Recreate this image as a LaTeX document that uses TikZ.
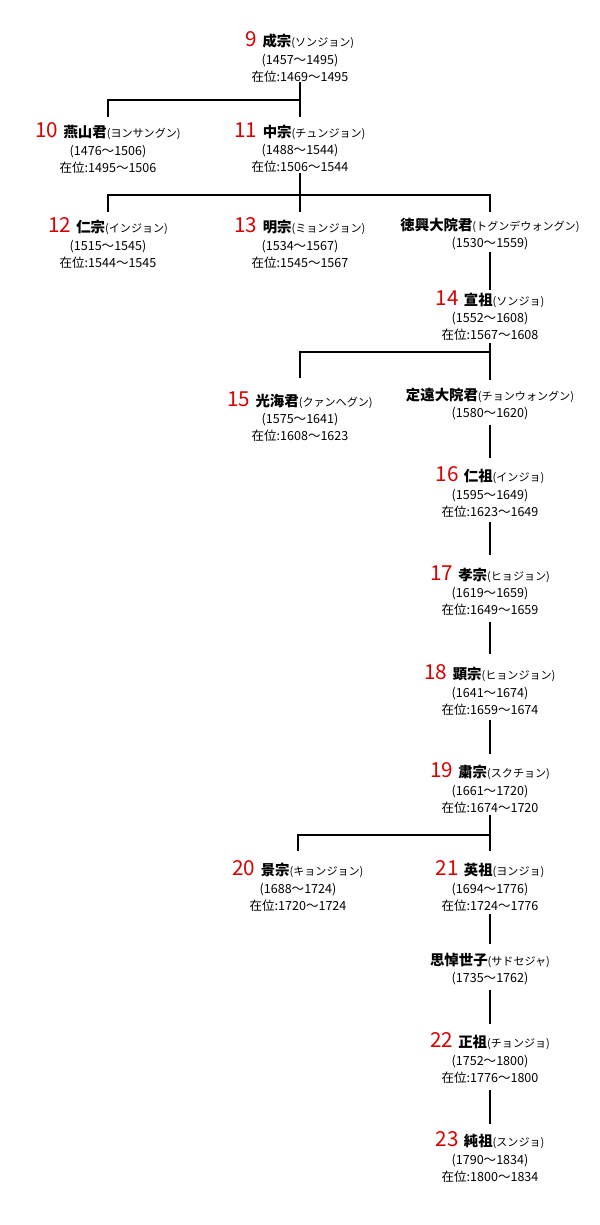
\documentclass[tikz,border=0pt]{standalone}
\usepackage{fontspec}
\setmainfont{Noto Sans CJK JP}
\newcommand{\knum}[1]{{\fontsize{15.5pt}{14pt}\selectfont\color{red!85!black}#1}\hspace{4pt}}
\newcommand{\ktit}[1]{{\fontsize{10.8pt}{12pt}\selectfont\bfseries #1}}
\newcommand{\kkana}[1]{{\fontsize{8.3pt}{10pt}\selectfont #1}}
\begin{document}
\begin{tikzpicture}[x=0.75pt,y=-0.75pt,
  person/.style={align=center,font=\fontsize{9.4pt}{12.8pt}\selectfont,inner sep=0pt},
  link/.style={line width=1.1pt}]
\useasboundingbox (0,0) rectangle (600,1225);
\node[person] (k9) at (300,57) {\knum{9}\ktit{成宗}\kkana{(ソンジョン)}\\(1457～1495)\\在位:1469～1495};
\node[person] (k10) at (108,148) {\knum{10}\ktit{燕山君}\kkana{(ヨンサングン)}\\(1476～1506)\\在位:1495～1506};
\node[person] (k11) at (300,148) {\knum{11}\ktit{中宗}\kkana{(チュンジョン)}\\(1488～1544)\\在位:1506～1544};
\node[person] (k12) at (108,243) {\knum{12}\ktit{仁宗}\kkana{(インジョン)}\\(1515～1545)\\在位:1544～1545};
\node[person] (k13) at (300,243) {\knum{13}\ktit{明宗}\kkana{(ミョンジョン)}\\(1534～1567)\\在位:1545～1567};
\node[person] (tok) at (490,234) {\ktit{徳興大院君}\kkana{(トグンデウォングン)}\\(1530～1559)};
\node[person] (k14) at (490,316) {\knum{14}\ktit{宣祖}\kkana{(ソンジョ)}\\(1552～1608)\\在位:1567～1608};
\node[person] (k15) at (300,417) {\knum{15}\ktit{光海君}\kkana{(クァンヘグン)}\\(1575～1641)\\在位:1608～1623};
\node[person] (tei) at (490,404) {\ktit{定遠大院君}\kkana{(チョンウォングン)}\\(1580～1620)};
\node[person] (k16) at (490,492) {\knum{16}\ktit{仁祖}\kkana{(インジョ)}\\(1595～1649)\\在位:1623～1649};
\node[person] (k17) at (490,591) {\knum{17}\ktit{孝宗}\kkana{(ヒョジョン)}\\(1619～1659)\\在位:1649～1659};
\node[person] (k18) at (490,690) {\knum{18}\ktit{顕宗}\kkana{(ヒョンジョン)}\\(1641～1674)\\在位:1659～1674};
\node[person] (k19) at (490,788) {\knum{19}\ktit{粛宗}\kkana{(スクチョン)}\\(1661～1720)\\在位:1674～1720};
\node[person] (k20) at (298,886) {\knum{20}\ktit{景宗}\kkana{(キョンジョン)}\\(1688～1724)\\在位:1720～1724};
\node[person] (k21) at (490,886) {\knum{21}\ktit{英祖}\kkana{(ヨンジョ)}\\(1694～1776)\\在位:1724～1776};
\node[person] (sado) at (490,969) {\ktit{思悼世子}\kkana{(サドセジャ)}\\(1735～1762)};
\node[person] (k22) at (490,1058) {\knum{22}\ktit{正祖}\kkana{(チョンジョ)}\\(1752～1800)\\在位:1776～1800};
\node[person] (k23) at (490,1157) {\knum{23}\ktit{純祖}\kkana{(スンジョ)}\\(1790～1834)\\在位:1800～1834};
% connectors
\draw[link] (k9.south |- 0,82) -- (k9.south |- 0,117);
\draw[link] (k10.north |- 0,117) -- (k10.north |- 0,100) -- (k9.south |- 0,100);
\draw[link] (k11.south |- 0,173) -- (k11.south |- 0,212);
\draw[link] (k12.north |- 0,212) -- (k12.north |- 0,195) -- (tok.north |- 0,195) -- (tok.north |- 0,212);
\draw[link] (tok.south |- 0,252) -- (k14.north |- 0,290);
\draw[link] (k14.south |- 0,343) -- (k14.south |- 0,380);
\draw[link] (k15.north |- 0,378) -- (k15.north |- 0,352) -- (k14.south |- 0,352);
\draw[link] (tei.south |- 0,425) -- (k16.north |- 0,458);
\draw[link] (k16.south |- 0,522) -- (k17.north |- 0,555);
\draw[link] (k17.south |- 0,622) -- (k18.north |- 0,654);
\draw[link] (k18.south |- 0,720) -- (k19.north |- 0,754);
\draw[link] (k19.south |- 0,815) -- (k21.north |- 0,851);
\draw[link] (k20.north |- 0,851) -- (k20.north |- 0,835) -- (k19.south |- 0,835);
\draw[link] (k21.south |- 0,914) -- (sado.north |- 0,944);
\draw[link] (sado.south |- 0,990) -- (k22.north |- 0,1024);
\draw[link] (k22.south |- 0,1090) -- (k23.north |- 0,1124);
\end{tikzpicture}
\end{document}
